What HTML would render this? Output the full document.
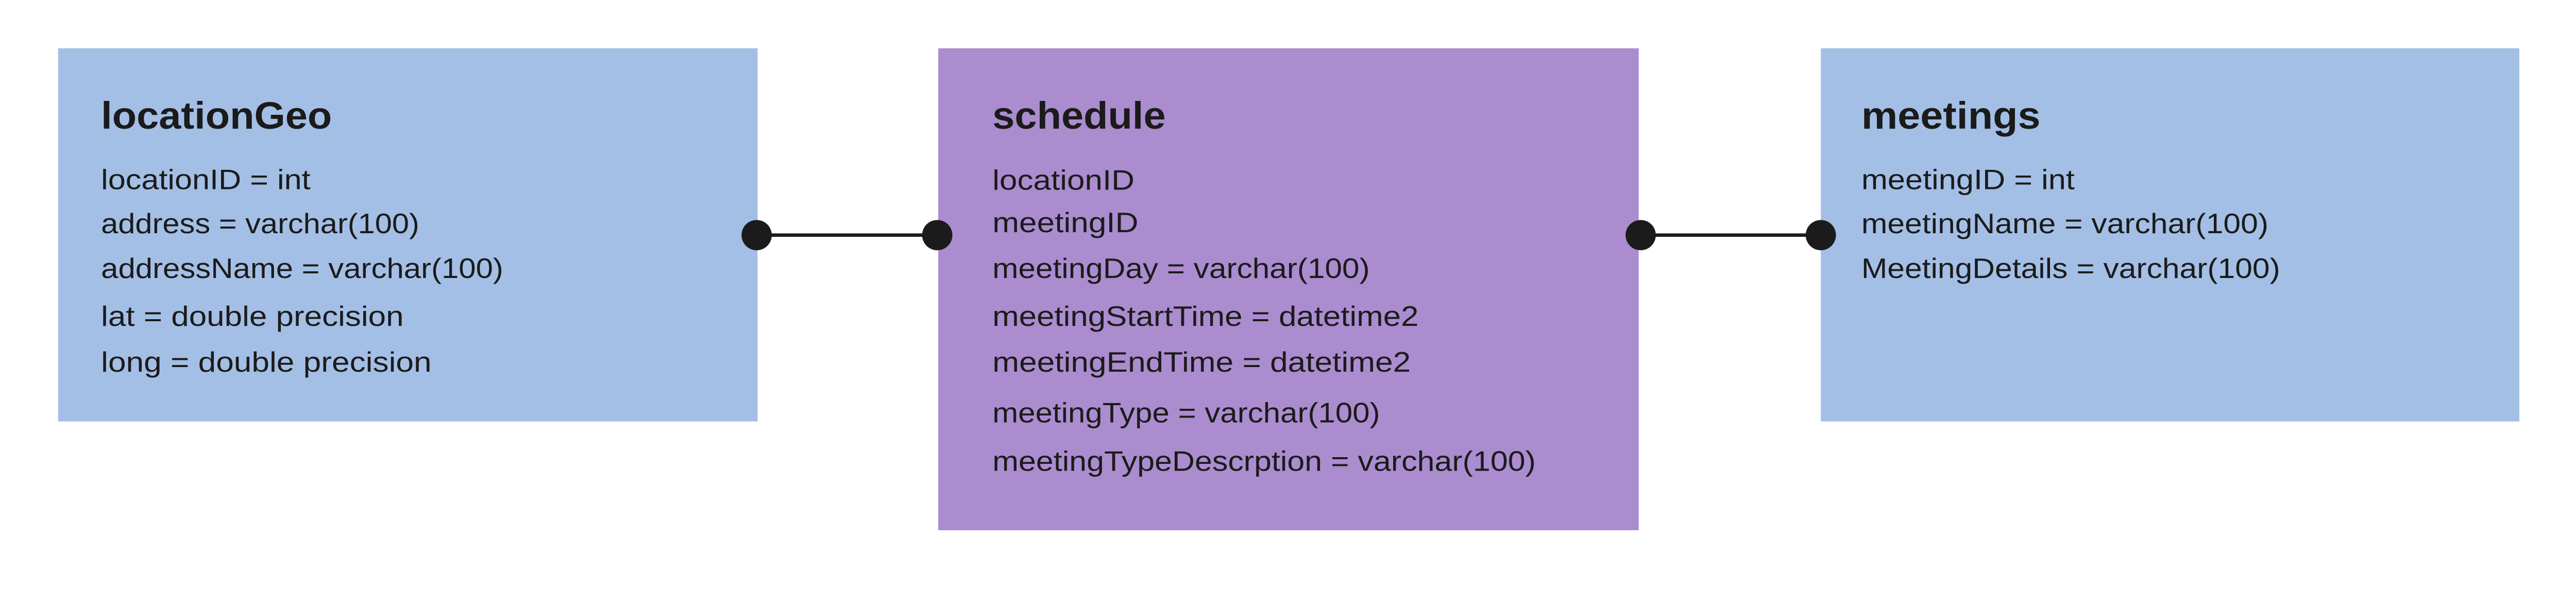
<!DOCTYPE html>
<html><head><meta charset="utf-8"><style>html,body{margin:0;padding:0;background:#fff;overflow:hidden}svg{display:block;position:absolute;left:0;top:0;width:100vw;height:auto}</style></head>
<body>
<svg viewBox="0 0 5277 1181" width="5277" height="1181" xmlns="http://www.w3.org/2000/svg" font-family="'Liberation Sans', sans-serif" fill="#1b1b1b">
<rect x="0" y="0" width="5277" height="1181" fill="#ffffff"/>
<rect x="119" y="99" width="1433" height="765" fill="#a4bfe6"/>
<rect x="1922" y="99" width="1435" height="988" fill="#ab8ccf"/>
<rect x="3730" y="99" width="1431" height="765" fill="#a4bfe6"/>
<line x1="1550" y1="482" x2="1920" y2="482" stroke="#1b1b1b" stroke-width="7"/>
<line x1="3361" y1="482" x2="3730" y2="482" stroke="#1b1b1b" stroke-width="7"/>
<circle cx="1550" cy="482" r="31"/>
<circle cx="1920" cy="482" r="31"/>
<circle cx="3361" cy="482" r="31"/>
<circle cx="3730" cy="482" r="31"/>
<g font-size="78" font-weight="bold">
<text x="207" y="264" textLength="473" lengthAdjust="spacingAndGlyphs">locationGeo</text>
<text x="2033" y="264" textLength="355" lengthAdjust="spacingAndGlyphs">schedule</text>
<text x="3813" y="264" textLength="367" lengthAdjust="spacingAndGlyphs">meetings</text>
</g>
<g font-size="58">
<text x="207" y="388" textLength="429" lengthAdjust="spacingAndGlyphs">locationID = int</text>
<text x="207" y="478" textLength="652" lengthAdjust="spacingAndGlyphs">address = varchar(100)</text>
<text x="207" y="570" textLength="824" lengthAdjust="spacingAndGlyphs">addressName = varchar(100)</text>
<text x="207" y="668" textLength="620" lengthAdjust="spacingAndGlyphs">lat = double precision</text>
<text x="207" y="762" textLength="677" lengthAdjust="spacingAndGlyphs">long = double precision</text>

<text x="2033" y="389" textLength="291" lengthAdjust="spacingAndGlyphs">locationID</text>
<text x="2033" y="476" textLength="299" lengthAdjust="spacingAndGlyphs">meetingID</text>
<text x="2033" y="570" textLength="773" lengthAdjust="spacingAndGlyphs">meetingDay = varchar(100)</text>
<text x="2033" y="668" textLength="873" lengthAdjust="spacingAndGlyphs">meetingStartTime = datetime2</text>
<text x="2033" y="762" textLength="857" lengthAdjust="spacingAndGlyphs">meetingEndTime = datetime2</text>
<text x="2033" y="866" textLength="794" lengthAdjust="spacingAndGlyphs">meetingType = varchar(100)</text>
<text x="2033" y="965" textLength="1113" lengthAdjust="spacingAndGlyphs">meetingTypeDescrption = varchar(100)</text>

<text x="3813" y="388" textLength="437" lengthAdjust="spacingAndGlyphs">meetingID = int</text>
<text x="3813" y="478" textLength="834" lengthAdjust="spacingAndGlyphs">meetingName = varchar(100)</text>
<text x="3813" y="570" textLength="858" lengthAdjust="spacingAndGlyphs">MeetingDetails = varchar(100)</text>
</g>
</svg>
</body></html>
